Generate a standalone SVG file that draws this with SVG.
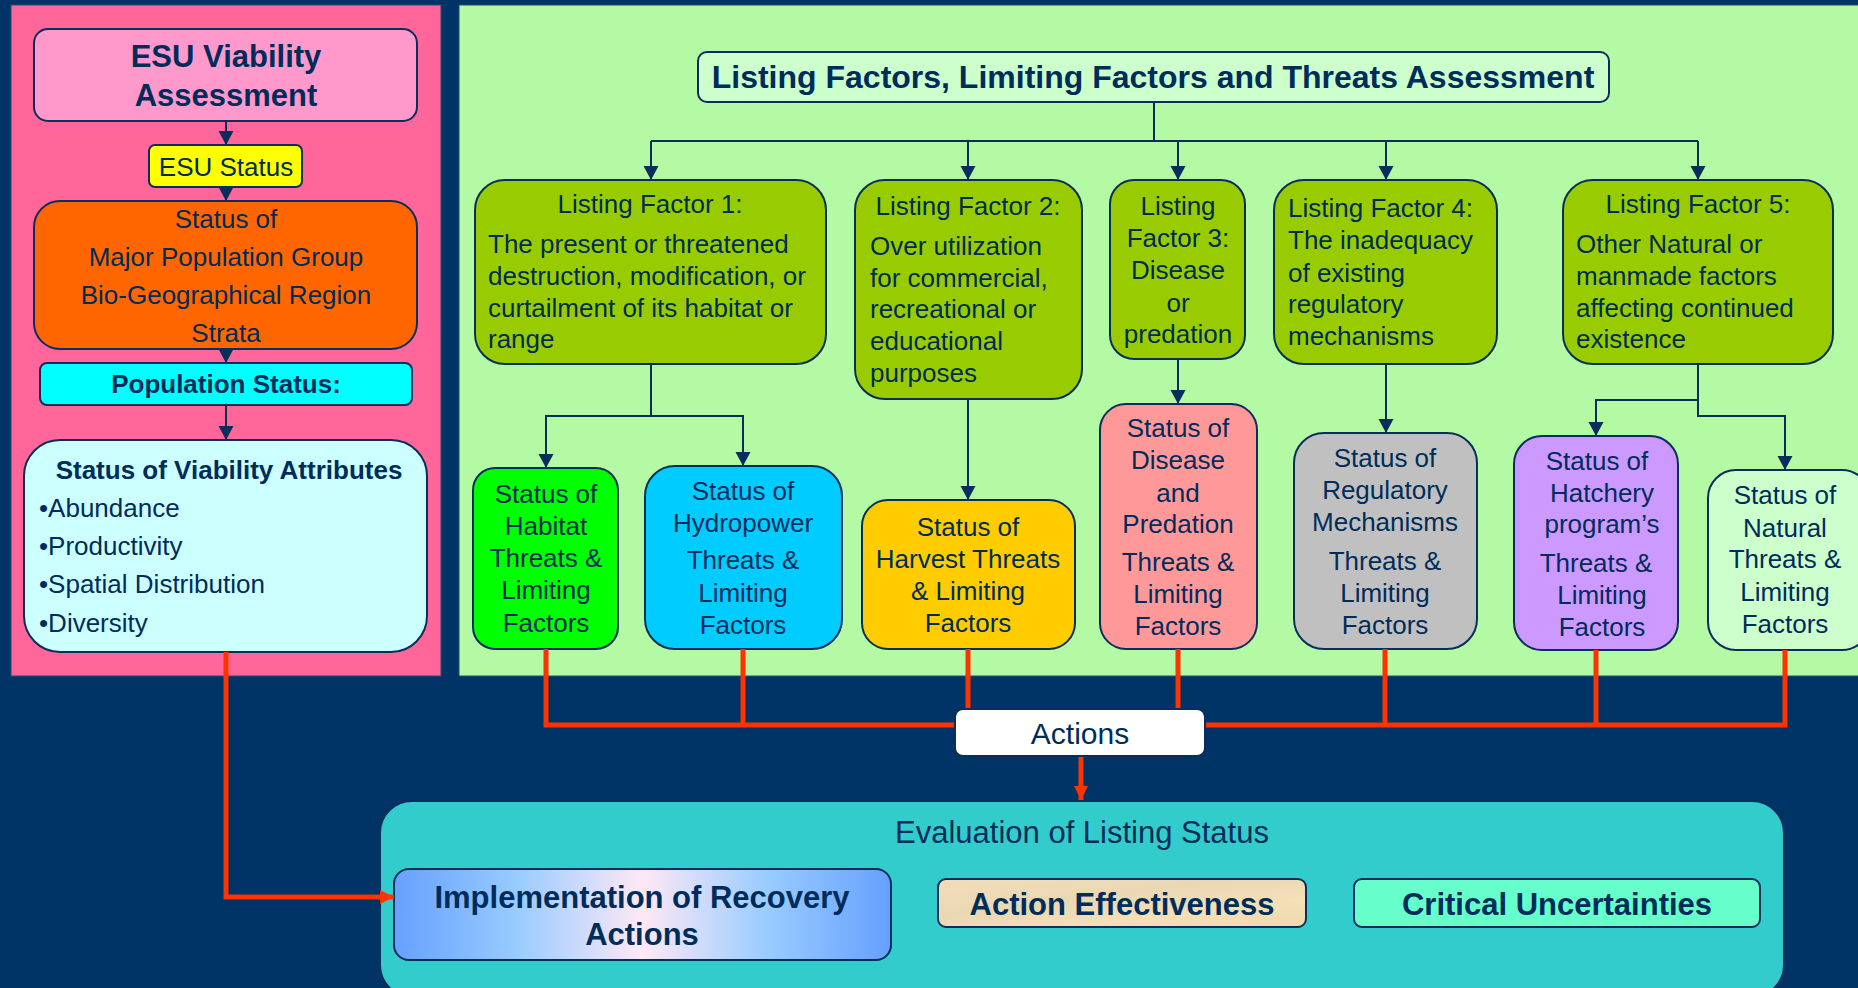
<svg xmlns="http://www.w3.org/2000/svg" width="1858" height="988" viewBox="0 0 1858 988">
<defs>
<style>
.t{font-family:"Liberation Sans",Arial,Helvetica,sans-serif;fill:#002C5A}
.s26{font-size:26px}
.b{font-weight:bold}
.c{text-anchor:middle}
.bx{stroke:#0A2E5C;stroke-width:2}
.nl{fill:none;stroke:#0A2E5C;stroke-width:2}
.rl{fill:none;stroke:#FF3300;stroke-width:5}
</style>
<marker id="ah" markerUnits="userSpaceOnUse" markerWidth="16" markerHeight="16" viewBox="0 0 16 16" refX="14" refY="8" orient="auto">
<path d="M0,0.5 L14,8 L0,15.5 z" fill="#0A2E5C"/>
</marker>
<marker id="rah" markerUnits="userSpaceOnUse" markerWidth="16" markerHeight="16" viewBox="0 0 16 16" refX="14" refY="8" orient="auto">
<path d="M0,1 L14,8 L0,15 z" fill="#FF3300"/>
</marker>
<linearGradient id="impl" x1="0" y1="0" x2="1" y2="0">
<stop offset="0" stop-color="#66A0FF"/>
<stop offset="0.25" stop-color="#99CCFF"/>
<stop offset="0.5" stop-color="#FFE8F6"/>
<stop offset="0.75" stop-color="#99CCFF"/>
<stop offset="1" stop-color="#66A0FF"/>
</linearGradient>
<linearGradient id="parch" x1="0" y1="0" x2="1" y2="1">
<stop offset="0" stop-color="#F2DDB8"/>
<stop offset="0.4" stop-color="#EAD8B4"/>
<stop offset="0.7" stop-color="#F4DFB6"/>
<stop offset="1" stop-color="#EFD9AE"/>
</linearGradient>
</defs>

<rect x="0" y="0" width="1858" height="988" fill="#003366"/>

<g id="panel-viability">
<rect x="11" y="5" width="430" height="671" fill="#FF6699" stroke="#2A4A6A" stroke-width="1"/>
</g>
<g id="panel-listing">
<rect x="459" y="5" width="1410" height="671" fill="#B4FAA4" stroke="#2A4A6A" stroke-width="1"/>
</g>

<g id="esu-viability">
<rect class="bx" x="34" y="29" width="383" height="92" rx="14" fill="#FF99CC"/>
<text class="t b c" x="226" y="67" font-size="31">ESU Viability</text>
<text class="t b c" x="226" y="106" font-size="31">Assessment</text>
</g>
<g id="esu-status">
<rect class="bx" x="149" y="145" width="153" height="42" rx="6" fill="#FFFF00"/>
<text class="t s26 c" x="226" y="176">ESU Status</text>
</g>
<g id="mpg-status">
<rect class="bx" x="34" y="201" width="383" height="148" rx="26" fill="#FF6600"/>
<text class="t s26 c" x="226" y="228">Status of</text>
<text class="t s26 c" x="226" y="266">Major Population Group</text>
<text class="t s26 c" x="226" y="304">Bio-Geographical Region</text>
<text class="t s26 c" x="226" y="342">Strata</text>
</g>
<g id="population-status">
<rect class="bx" x="40" y="363" width="372" height="42" rx="7" fill="#00FFFF"/>
<text class="t s26 b c" x="226" y="393">Population Status:</text>
</g>
<g id="viability-attributes">
<rect class="bx" x="24" y="440" width="403" height="212" rx="36" fill="#CCFFFF"/>
<text class="t s26 b c" x="229" y="479">Status of Viability Attributes</text>
<text class="t s26" x="39" y="517">•Abundance</text>
<text class="t s26" x="39" y="555">•Productivity</text>
<text class="t s26" x="39" y="593">•Spatial Distribution</text>
<text class="t s26" x="39" y="632">•Diversity</text>
</g>

<g id="listing-assessment">
<rect class="bx" x="698" y="52" width="911" height="50" rx="9" fill="#CCFFCC"/>
<text class="t b c" x="1153" y="88" font-size="32">Listing Factors, Limiting Factors and Threats Assessment</text>
</g>

<g id="lf1">
<rect class="bx" x="475" y="180" width="351" height="184" rx="30" fill="#99CC00"/>
<text class="t s26 c" x="650" y="213">Listing Factor 1:</text>
<text class="t s26" x="488" y="253">The present or threatened</text>
<text class="t s26" x="488" y="285">destruction, modification, or</text>
<text class="t s26" x="488" y="317">curtailment of its habitat or</text>
<text class="t s26" x="488" y="348">range</text>
</g>
<g id="lf2">
<rect class="bx" x="855" y="180" width="227" height="219" rx="30" fill="#99CC00"/>
<text class="t s26 c" x="968" y="215">Listing Factor 2:</text>
<text class="t s26" x="870" y="255">Over utilization</text>
<text class="t s26" x="870" y="287">for commercial,</text>
<text class="t s26" x="870" y="318">recreational or</text>
<text class="t s26" x="870" y="350">educational</text>
<text class="t s26" x="870" y="382">purposes</text>
</g>
<g id="lf3">
<rect class="bx" x="1110" y="180" width="135" height="179" rx="24" fill="#99CC00"/>
<text class="t s26 c" x="1178" y="215">Listing</text>
<text class="t s26 c" x="1178" y="247">Factor 3:</text>
<text class="t s26 c" x="1178" y="279">Disease</text>
<text class="t s26 c" x="1178" y="312">or</text>
<text class="t s26 c" x="1178" y="343">predation</text>
</g>
<g id="lf4">
<rect class="bx" x="1274" y="180" width="223" height="184" rx="30" fill="#99CC00"/>
<text class="t s26" x="1288" y="217">Listing Factor 4:</text>
<text class="t s26" x="1288" y="249">The inadequacy</text>
<text class="t s26" x="1288" y="282">of existing</text>
<text class="t s26" x="1288" y="313">regulatory</text>
<text class="t s26" x="1288" y="345">mechanisms</text>
</g>
<g id="lf5">
<rect class="bx" x="1563" y="180" width="270" height="184" rx="30" fill="#99CC00"/>
<text class="t s26 c" x="1698" y="213">Listing Factor 5:</text>
<text class="t s26" x="1576" y="253">Other Natural or</text>
<text class="t s26" x="1576" y="285">manmade factors</text>
<text class="t s26" x="1576" y="317">affecting continued</text>
<text class="t s26" x="1576" y="348">existence</text>
</g>

<g id="habitat">
<rect class="bx" x="473" y="468" width="145" height="181" rx="22" fill="#00FF00"/>
<text class="t s26 c" x="546" y="503">Status of</text>
<text class="t s26 c" x="546" y="535">Habitat</text>
<text class="t s26 c" x="546" y="567">Threats &amp;</text>
<text class="t s26 c" x="546" y="599">Limiting</text>
<text class="t s26 c" x="546" y="632">Factors</text>
</g>
<g id="hydropower">
<rect class="bx" x="645" y="466" width="197" height="183" rx="30" fill="#00CCFF"/>
<text class="t s26 c" x="743" y="500">Status of</text>
<text class="t s26 c" x="743" y="532">Hydropower</text>
<text class="t s26 c" x="743" y="569">Threats &amp;</text>
<text class="t s26 c" x="743" y="602">Limiting</text>
<text class="t s26 c" x="743" y="634">Factors</text>
</g>
<g id="harvest">
<rect class="bx" x="862" y="500" width="213" height="149" rx="26" fill="#FFCC00"/>
<text class="t s26 c" x="968" y="536">Status of</text>
<text class="t s26 c" x="968" y="568">Harvest Threats</text>
<text class="t s26 c" x="968" y="600">&amp; Limiting</text>
<text class="t s26 c" x="968" y="632">Factors</text>
</g>
<g id="disease">
<rect class="bx" x="1100" y="404" width="157" height="245" rx="26" fill="#FF9999"/>
<text class="t s26 c" x="1178" y="437">Status of</text>
<text class="t s26 c" x="1178" y="469">Disease</text>
<text class="t s26 c" x="1178" y="502">and</text>
<text class="t s26 c" x="1178" y="533">Predation</text>
<text class="t s26 c" x="1178" y="571">Threats &amp;</text>
<text class="t s26 c" x="1178" y="603">Limiting</text>
<text class="t s26 c" x="1178" y="635">Factors</text>
</g>
<g id="regulatory">
<rect class="bx" x="1294" y="433" width="183" height="216" rx="30" fill="#C0C0C0"/>
<text class="t s26 c" x="1385" y="467">Status of</text>
<text class="t s26 c" x="1385" y="499">Regulatory</text>
<text class="t s26 c" x="1385" y="531">Mechanisms</text>
<text class="t s26 c" x="1385" y="570">Threats &amp;</text>
<text class="t s26 c" x="1385" y="602">Limiting</text>
<text class="t s26 c" x="1385" y="634">Factors</text>
</g>
<g id="hatchery">
<rect class="bx" x="1514" y="436" width="164" height="214" rx="28" fill="#CC99FF"/>
<text class="t s26 c" x="1597" y="470">Status of</text>
<text class="t s26 c" x="1602" y="502">Hatchery</text>
<text class="t s26 c" x="1602" y="533">program’s</text>
<text class="t s26 c" x="1596" y="572">Threats &amp;</text>
<text class="t s26 c" x="1602" y="604">Limiting</text>
<text class="t s26 c" x="1602" y="636">Factors</text>
</g>
<g id="natural">
<rect class="bx" x="1708" y="470" width="162" height="180" rx="28" fill="#CCFFCC"/>
<text class="t s26 c" x="1785" y="504">Status of</text>
<text class="t s26 c" x="1785" y="537">Natural</text>
<text class="t s26 c" x="1785" y="568">Threats &amp;</text>
<text class="t s26 c" x="1785" y="601">Limiting</text>
<text class="t s26 c" x="1785" y="633">Factors</text>
</g>

<g id="evaluation">
<rect class="bx" x="380" y="801" width="1404" height="196" rx="32" fill="#33CCCC"/>
<text class="t c" x="1082" y="843" font-size="31">Evaluation of Listing Status</text>
</g>
<g id="implementation">
<rect class="bx" x="394" y="869" width="497" height="91" rx="15" fill="url(#impl)"/>
<text class="t b c" x="642" y="908" font-size="31">Implementation of Recovery</text>
<text class="t b c" x="642" y="945" font-size="31">Actions</text>
</g>
<g id="action-effectiveness">
<rect class="bx" x="938" y="879" width="368" height="48" rx="8" fill="url(#parch)"/>
<text class="t b c" x="1122" y="915" font-size="31">Action Effectiveness</text>
</g>
<g id="critical-uncertainties">
<rect class="bx" x="1354" y="879" width="406" height="48" rx="8" fill="#66FFCC"/>
<text class="t b c" x="1557" y="915" font-size="31">Critical Uncertainties</text>
</g>

<g id="connectors">
<path class="nl" d="M226,121 V145" marker-end="url(#ah)"/>
<path class="nl" d="M226,187 V201" marker-end="url(#ah)"/>
<path class="nl" d="M226,349 V363" marker-end="url(#ah)"/>
<path class="nl" d="M226,405 V440" marker-end="url(#ah)"/>

<path class="nl" d="M1154,102 V141"/>
<path class="nl" d="M651,141 H1698"/>
<path class="nl" d="M651,141 V180" marker-end="url(#ah)"/>
<path class="nl" d="M968,141 V180" marker-end="url(#ah)"/>
<path class="nl" d="M1178,141 V180" marker-end="url(#ah)"/>
<path class="nl" d="M1386,141 V180" marker-end="url(#ah)"/>
<path class="nl" d="M1698,141 V180" marker-end="url(#ah)"/>

<path class="nl" d="M651,364 V416 H546 V468" marker-end="url(#ah)"/>
<path class="nl" d="M651,416 H743 V466" marker-end="url(#ah)"/>
<path class="nl" d="M968,399 V500" marker-end="url(#ah)"/>
<path class="nl" d="M1178,359 V404" marker-end="url(#ah)"/>
<path class="nl" d="M1386,364 V433" marker-end="url(#ah)"/>
<path class="nl" d="M1698,364 V400 H1596 V436" marker-end="url(#ah)"/>
<path class="nl" d="M1698,400 V416 H1785 V470" marker-end="url(#ah)"/>

<path class="rl" d="M546,649 V725 H956"/>
<path class="rl" d="M743,649 V725"/>
<path class="rl" d="M968,649 V709"/>
<path class="rl" d="M1178,649 V709"/>
<path class="rl" d="M1204,725 H1785 V650"/>
<path class="rl" d="M1385,649 V725"/>
<path class="rl" d="M1596,650 V725"/>
<path class="rl" d="M1081,756 V800" marker-end="url(#rah)"/>
<path class="rl" d="M226,652 V897 H394" marker-end="url(#rah)"/>
</g>

<g id="actions">
<rect class="bx" x="955" y="709" width="250" height="47" rx="8" fill="#FFFFFF"/>
<text class="t c" x="1080" y="744" font-size="30">Actions</text>
</g>
</svg>
